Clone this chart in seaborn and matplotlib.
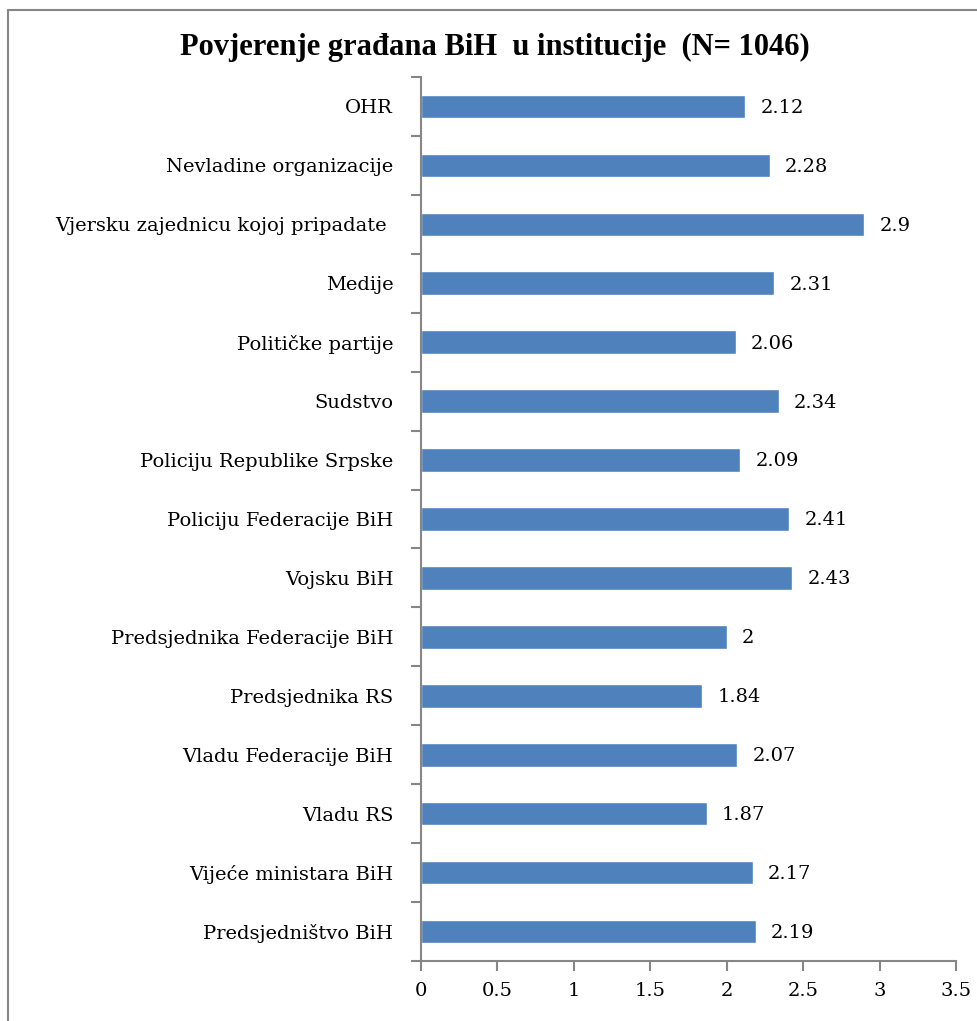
import matplotlib
matplotlib.use("Agg")
import matplotlib.pyplot as plt
import seaborn as sns
from matplotlib.lines import Line2D
from matplotlib.ticker import FixedLocator

# Podaci (odozgo prema dolje)
kategorije = [
    "OHR",
    "Nevladine organizacije",
    "Vjersku zajednicu kojoj pripadate ",
    "Medije",
    "Političke partije",
    "Sudstvo",
    "Policiju Republike Srpske",
    "Policiju Federacije BiH",
    "Vojsku BiH",
    "Predsjednika Federacije BiH",
    "Predsjednika RS",
    "Vladu Federacije BiH",
    "Vladu RS",
    "Vijeće ministara BiH",
    "Predsjedništvo BiH",
]
vrijednosti = [2.12, 2.28, 2.9, 2.31, 2.06, 2.34, 2.09, 2.41, 2.43, 2, 1.84, 2.07, 1.87, 2.17, 2.19]
oznake = ["2.12", "2.28", "2.9", "2.31", "2.06", "2.34", "2.09", "2.41", "2.43", "2",
          "1.84", "2.07", "1.87", "2.17", "2.19"]
x_ticks = [0, 0.5, 1, 1.5, 2, 2.5, 3, 3.5]
x_oznake = ["0", "0.5", "1", "1.5", "2", "2.5", "3", "3.5"]
naslov = "Povjerenje građana BiH  u institucije  (N= 1046)"

sns.set_style("white")
plt.rcParams["font.family"] = ["DejaVu Serif"]
plt.rcParams["text.color"] = "black"

fig = plt.figure(figsize=(9.78, 10.21), dpi=100)
ax = fig.add_axes([421 / 978, 1 - 961 / 1021, (956 - 421) / 978, (961 - 77) / 1021])

sns.barplot(x=vrijednosti, y=kategorije, orient="h", color="#4F81BD",
            saturation=1, width=0.4, ax=ax)

siva = "#868686"
ax.set_xlim(0, 3.5)
ax.set_ylim(len(kategorije) - 0.5, -0.5)
ax.set_xticks(x_ticks)
ax.set_xticklabels(x_oznake)
ax.set_xlabel("")
ax.set_ylabel("")

# y-kvačice na granicama kategorija
ax.yaxis.set_minor_locator(FixedLocator([i - 0.5 for i in range(len(kategorije) + 1)]))
ax.tick_params(axis="y", which="major", length=0, pad=20, labelsize=14, labelcolor="black")
ax.tick_params(axis="y", which="minor", length=7, width=1.5, color=siva, left=True)
ax.tick_params(axis="x", which="major", length=7, width=1.5, color=siva, bottom=True,
               pad=8, labelsize=14, labelcolor="black")

for s in ["top", "right"]:
    ax.spines[s].set_visible(False)
for s in ["left", "bottom"]:
    ax.spines[s].set_color(siva)
    ax.spines[s].set_linewidth(1.5)

for i, (v, t) in enumerate(zip(vrijednosti, oznake)):
    ax.annotate(t, (v, i), xytext=(11, -1), textcoords="offset points",
                va="center", ha="left", fontsize=14, color="black")

fig.text(495 / 978, 1 - 47 / 1021, naslov, ha="center", va="center",
         fontsize=22, fontweight="bold", family="Liberation Serif", color="black")

# okvir grafikona
fig.add_artist(Line2D([8 / 978, 8 / 978], [0, 1 - 10 / 1021], color=siva, lw=1.5))
fig.add_artist(Line2D([8 / 978, 1], [1 - 10 / 1021, 1 - 10 / 1021], color=siva, lw=1.5))

fig.savefig("out.png", dpi=100)
